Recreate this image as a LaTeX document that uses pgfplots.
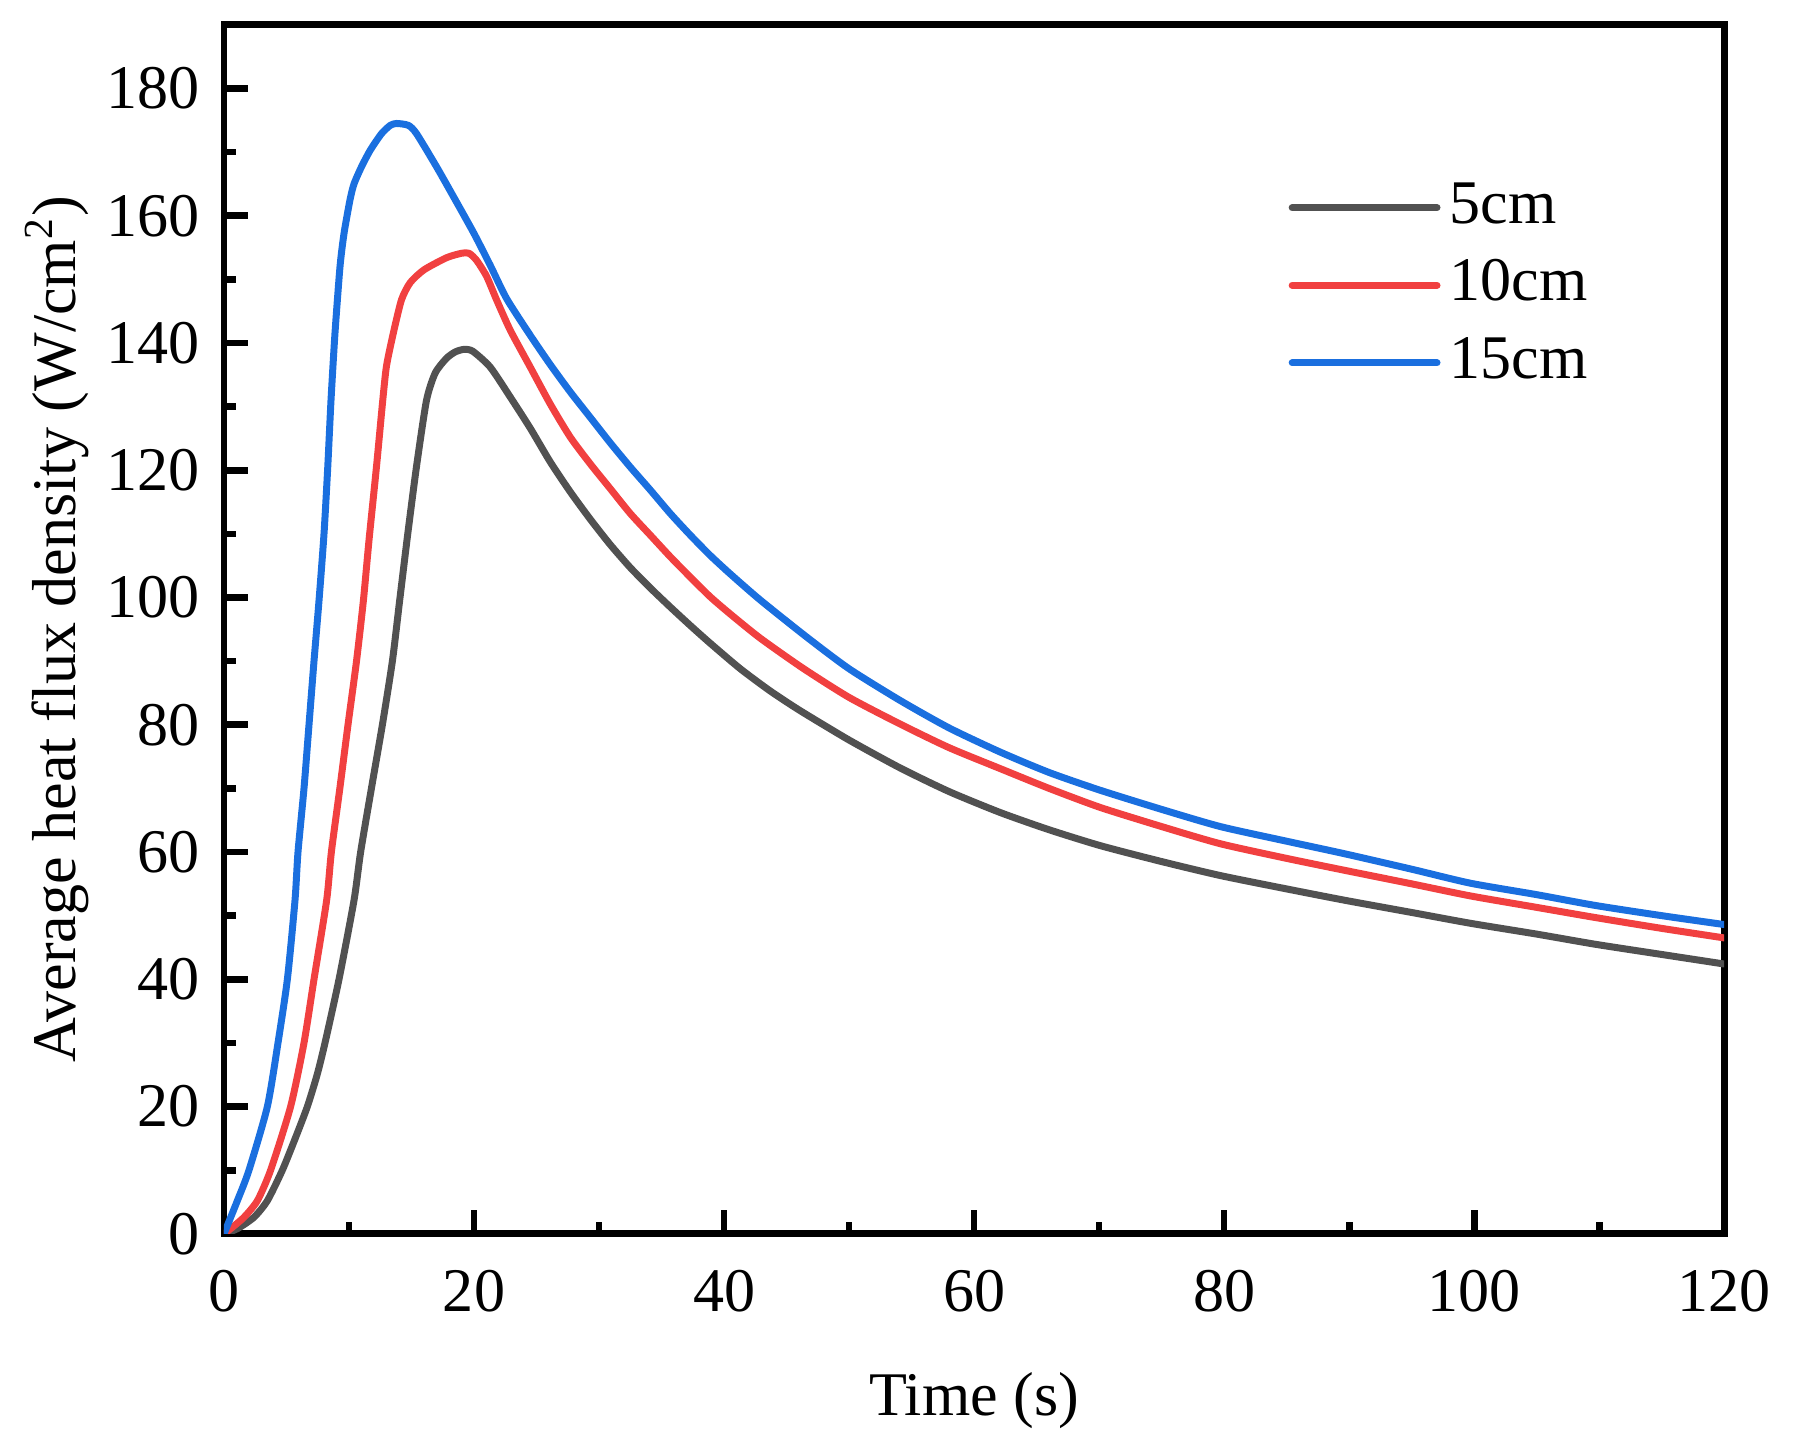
\documentclass[12pt,border=0pt]{standalone}
\usepackage{fontspec}
\setmainfont{Liberation Serif}
\usepackage{pgfplots}
\pgfplotsset{compat=1.18}

\definecolor{c5}{HTML}{515151}
\definecolor{c10}{HTML}{F14040}
\definecolor{c15}{HTML}{1A6FDF}

% 5cm
\pgfplotstableread{
t q
0 0
1.07 0.8
2.4 2.6
3.47 5.2
4.67 10
5.7 15
6.67 20
7.45 25
8.08 30
9.2 40
10.4 52.4
10.93 60
11.81 70.2
12.67 80
13.47 90
14.05 99.5
14.7 110
15.4 120.6
16.2 131
16.9 135.3
17.8 137.6
18.5 138.6
19.2 139
19.9 138.7
21.3 136.2
22.9 131.5
24.5 126.6
26.1 121.3
27.7 116.6
29.3 112.3
30.9 108.3
32.5 104.7
34.1 101.5
35.7 98.5
37.3 95.6
38.9 92.8
41.3 88.8
43.7 85.3
46.1 82.2
50.0 77.6
54.1 73.2
58.0 69.5
62.1 66.2
66.0 63.5
70.1 61.0
75.0 58.5
79.7 56.3
85.0 54.2
89.7 52.4
95.0 50.5
99.7 48.8
105.0 47.1
109.7 45.5
115.0 43.9
120 42.4
}\tfive

% 10cm
\pgfplotstableread{
t q
0 0
0.53 0.8
1.6 2.6
2.67 5.2
3.73 10
5.33 20
6.4 30
7.2 40
8.21 52.4
8.59 60
9.28 70.2
9.92 80
10.6 90
11.15 99.5
11.6 109
12.2 120.6
12.7 131
13.0 136.4
13.55 141.6
14.2 146.8
14.9 149.5
16.0 151.5
17.8 153.4
19.0 154.1
19.6 154.1
20.2 153
21.0 150.5
21.8 146.8
22.9 142.0
24.5 136.2
26.1 130.4
27.7 125.2
29.3 121.0
30.9 117.1
32.5 113.2
34.1 109.8
35.7 106.4
37.3 103.2
38.9 100.1
40.5 97.4
42.9 93.6
46.3 88.9
50.0 84.3
54.1 80.1
58.0 76.4
62.1 73.1
66.0 70.0
70.1 67.0
75.0 64.0
79.7 61.3
85.0 59.0
89.7 57.1
95.0 55.0
99.7 53.1
105.0 51.3
109.7 49.7
115.0 48.0
120 46.5
}\tten

% 15cm
\pgfplotstableread{
t q
0 0
1.07 5.2
2.0 10
3.47 20
4.32 30
5.07 40
5.68 52.4
5.92 60
6.4 70
6.8 80
7.2 90
7.6 99.5
8.0 110
8.3 120.5
8.56 131
8.88 141.6
9.28 152
9.6 157.2
10.08 162.5
10.4 165
11.0 167.7
11.7 170.3
12.6 172.9
13.3 174.2
13.8 174.5
14.75 174.2
15.4 172.9
17.0 167.7
18.5 162.5
20.0 157.2
21.3 152.2
22.6 147.0
24.5 141.2
26.1 136.6
27.7 132.3
29.3 128.3
30.9 124.3
32.5 120.5
34.1 116.9
35.7 113.2
37.3 109.8
38.9 106.6
40.5 103.7
42.9 99.6
46.6 93.8
50.0 88.8
54.1 83.8
58.0 79.5
62.1 75.7
66.0 72.5
70.1 69.7
75.0 66.7
79.7 64.0
85.0 61.7
89.7 59.7
95.0 57.3
99.7 55.1
105.0 53.3
109.7 51.6
115.0 50.0
120 48.6
}\tfifteen

\begin{document}
\begin{tikzpicture}
\begin{axis}[
  scale only axis,
  width=290pt, height=233.7pt,
  xmin=0, xmax=120, ymin=0, ymax=190,
  xtick={0,20,...,120}, ytick={0,20,...,180},
  minor x tick num=1, minor y tick num=1,
  tick align=inside,
  xtick pos=bottom, ytick pos=left,
  major tick length=4.6pt, minor tick length=2.3pt,
  every tick/.style={black, line width=1.3pt},
  axis line style={line width=1.3pt},
  /pgf/number format/assume math mode=true,
  xticklabel style={anchor=base, yshift=-15.1pt, inner sep=0pt},
  yticklabel style={inner sep=0pt, xshift=-4.5pt},
  xlabel={Time (s)},
  ylabel={Average heat flux density (W/cm\textsuperscript{2})},
  every axis x label/.style={at={([yshift=-35.2pt]rel axis cs:0.5,0)}, anchor=base},
  every axis y label/.style={at={([xshift=-28.8pt]rel axis cs:0,0.5)}, rotate=90, anchor=base},
  legend style={at={(rel axis cs:0.709,0.871)}, anchor=north west, draw=none, fill=none,
    inner sep=0pt, row sep=5pt, column sep=1.8pt,
    nodes={inner sep=0pt, text height=8pt, text depth=2pt}},
  legend cell align=left,
  legend image code/.code={\draw[#1] (0pt,0pt) -- (28pt,0pt);},
  every axis plot/.append style={line width=1.35pt, line cap=round, line join=round, mark=none, smooth, tension=0.4},
]
\addplot[c5] table[x=t, y=q] {\tfive};
\addlegendentry{5cm}
\addplot[c10] table[x=t, y=q] {\tten};
\addlegendentry{10cm}
\addplot[c15] table[x=t, y=q] {\tfifteen};
\addlegendentry{15cm}
\end{axis}
\path[use as bounding box] (-43.3pt,-40.2pt) rectangle (303.5pt,238.5pt);
\end{tikzpicture}
\end{document}
